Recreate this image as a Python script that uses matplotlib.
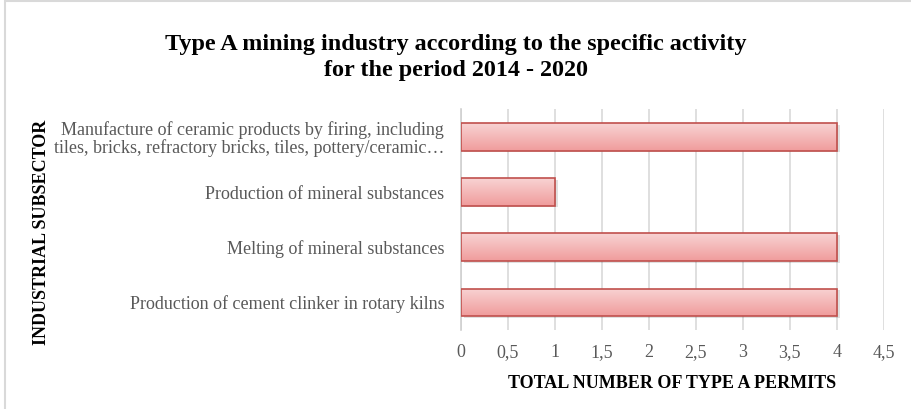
import numpy as np
import matplotlib.pyplot as plt
from matplotlib.patches import Rectangle
from matplotlib.colors import LinearSegmentedColormap
from matplotlib.ticker import FuncFormatter

# permits per activity, bottom to top
activities = [
    'Production of cement clinker in rotary kilns',
    'Melting of mineral substances',
    'Production of mineral substances',
    'Manufacture of ceramic products by firing, including\n'
    'tiles, bricks, refractory bricks, tiles, pottery/ceramic\u2026',
]
permits = [4, 4, 1, 4]
xticks = [0, 0.5, 1, 1.5, 2, 2.5, 3, 3.5, 4, 4.5]

plt.rcParams['font.family'] = ['Liberation Serif', 'DejaVu Serif']

fig = plt.figure(figsize=(9.11, 4.09), dpi=100)
ax = fig.add_axes([0.506, 0.193, 0.464, 0.540])

y = np.arange(len(activities))

# soft shadow under each bar
ax.barh(y - 0.03, permits, left=0.03, height=0.5, color='#000000',
        alpha=0.12, linewidth=0, zorder=2)
bars = ax.barh(y, permits, height=0.5, color='none', edgecolor='#c0504d',
               linewidth=1.2, zorder=4)

# vertical pink gradient inside each bar
pink = LinearSegmentedColormap.from_list('pink', ['#f8d3d3', '#f09c9c'])
grad = np.linspace(0, 1, 64).reshape(-1, 1)
for b in bars:
    x0, y0 = b.get_x(), b.get_y()
    w, h = b.get_width(), b.get_height()
    im = ax.imshow(grad, cmap=pink, aspect='auto', origin='upper',
                   extent=(x0, x0 + w, y0, y0 + h), zorder=3)
    im.set_clip_path(b)

ax.set_xlim(0, 4.5)
ax.set_ylim(-0.5, len(activities) - 0.5)
ax.set_xticks(xticks)
ax.xaxis.set_major_formatter(FuncFormatter(lambda v, p: f'{v:g}'.replace('.', ',')))
ax.set_yticks(y)
ax.set_yticklabels(activities, fontsize=13, color='#595959', linespacing=1.0)
ax.tick_params(axis='x', length=0, pad=10, labelsize=13, labelcolor='#595959')
ax.tick_params(axis='y', length=0, pad=12)
ax.grid(axis='x', color='#d9d9d9', linewidth=1.2, zorder=0)
ax.set_axisbelow(True)
for side in ['top', 'right', 'bottom']:
    ax.spines[side].set_visible(False)
ax.spines['left'].set_color('#d0d0d0')
ax.spines['left'].set_linewidth(1.2)

ax.set_xlabel('TOTAL NUMBER OF TYPE A PERMITS', fontsize=13,
              fontweight='bold', labelpad=10)
fig.text(0.046, 0.433, 'INDUSTRIAL SUBSECTOR', rotation=90, fontsize=13,
         fontweight='bold', ha='center', va='center')

fig.text(0.5, 0.86, 'Type A mining industry according to the specific activity\n'
         'for the period 2014 - 2020', ha='center', va='center',
         fontsize=17.4, fontweight='bold', linespacing=1.3)

# light frame around the chart area
fig.patches.append(Rectangle((0.005, -0.05), 1.2, 1.047, transform=fig.transFigure,
                             fill=False, edgecolor='#d9d9d9', linewidth=1.5))

fig.savefig('out.png', dpi=100)
